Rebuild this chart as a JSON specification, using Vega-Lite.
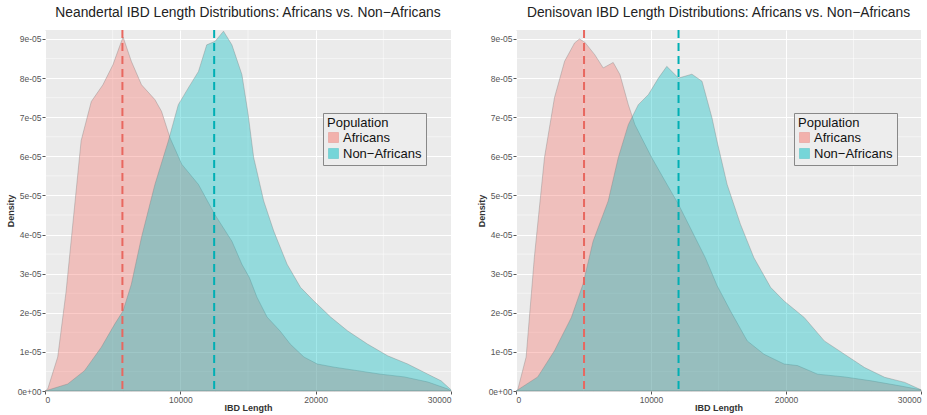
{
  "$schema": "https://vega.github.io/schema/vega-lite/v6.json",
  "background": "white",
  "padding": {"left": 6, "top": 6, "right": 2, "bottom": 0},
  "spacing": 24,
  "config": {
    "font": "Liberation Sans",
    "view": {"fill": "#EBEBEB", "stroke": null},
    "axis": {"labelFont": "Liberation Sans", "labelFontSize": 8.5, "labelColor": "#555555", "tickColor": "#555555", "tickSize": 3, "domain": false, "gridColor": "white", "gridWidth": 1, "titleFont": "Liberation Sans", "titleFontSize": 9, "titleFontWeight": "bold", "titleColor": "#333333", "labelPadding": 1},
    "title": {"font": "Liberation Sans", "fontSize": 13.8, "fontWeight": "normal", "color": "#222222", "offset": 9, "anchor": "middle"},
    "legend": {"orient": "none", "legendX": 278, "legendY": 83, "fillColor": "#EDEDED", "strokeColor": "#888888", "padding": 4, "titleFontSize": 13, "titleFontWeight": "normal", "titleColor": "#111111", "labelFontSize": 13, "labelColor": "#111111", "rowPadding": 1, "titlePadding": 1, "labelOffset": 3, "symbolType": "square", "symbolSize": 100, "symbolOpacity": 0.5, "symbolStrokeColor": "#888888", "symbolStrokeWidth": 0.8, "cornerRadius": 0}
  },
  "datasets": {
    "minorx": [{"x": 5000}, {"x": 15000}, {"x": 25000}],
    "minory": [{"density": 5e-6}, {"density": 1.5e-5}, {"density": 2.5e-5}, {"density": 3.5e-5}, {"density": 4.5e-5}, {"density": 5.5e-5}, {"density": 6.5e-5}, {"density": 7.5e-5}, {"density": 8.5e-5}],
    "neand": [
      {"pop": "Africans", "x": 0, "density": 0},
      {"pop": "Africans", "x": 200, "density": 0.05e-5},
      {"pop": "Africans", "x": 940, "density": 0.87e-5},
      {"pop": "Africans", "x": 1560, "density": 2.55e-5},
      {"pop": "Africans", "x": 2180, "density": 4.7e-5},
      {"pop": "Africans", "x": 2670, "density": 6.4e-5},
      {"pop": "Africans", "x": 3420, "density": 7.4e-5},
      {"pop": "Africans", "x": 4280, "density": 7.83e-5},
      {"pop": "Africans", "x": 5020, "density": 8.34e-5},
      {"pop": "Africans", "x": 5500, "density": 8.8e-5},
      {"pop": "Africans", "x": 5770, "density": 9.05e-5},
      {"pop": "Africans", "x": 6380, "density": 8.43e-5},
      {"pop": "Africans", "x": 7130, "density": 7.83e-5},
      {"pop": "Africans", "x": 8120, "density": 7.45e-5},
      {"pop": "Africans", "x": 8610, "density": 7.15e-5},
      {"pop": "Africans", "x": 9230, "density": 6.48e-5},
      {"pop": "Africans", "x": 10100, "density": 5.8e-5},
      {"pop": "Africans", "x": 11340, "density": 5.28e-5},
      {"pop": "Africans", "x": 12570, "density": 4.5e-5},
      {"pop": "Africans", "x": 13810, "density": 3.83e-5},
      {"pop": "Africans", "x": 14550, "density": 3.24e-5},
      {"pop": "Africans", "x": 15100, "density": 2.9e-5},
      {"pop": "Africans", "x": 15660, "density": 2.4e-5},
      {"pop": "Africans", "x": 16410, "density": 1.89e-5},
      {"pop": "Africans", "x": 17380, "density": 1.53e-5},
      {"pop": "Africans", "x": 18120, "density": 1.2e-5},
      {"pop": "Africans", "x": 19130, "density": 0.87e-5},
      {"pop": "Africans", "x": 20120, "density": 0.69e-5},
      {"pop": "Africans", "x": 21360, "density": 0.61e-5},
      {"pop": "Africans", "x": 23090, "density": 0.52e-5},
      {"pop": "Africans", "x": 24800, "density": 0.43e-5},
      {"pop": "Africans", "x": 26550, "density": 0.36e-5},
      {"pop": "Africans", "x": 28290, "density": 0.23e-5},
      {"pop": "Africans", "x": 29770, "density": 0.05e-5},
      {"pop": "Africans", "x": 30000, "density": 0},
      {"pop": "Non−Africans", "x": 0, "density": 0},
      {"pop": "Non−Africans", "x": 1680, "density": 0.18e-5},
      {"pop": "Non−Africans", "x": 2920, "density": 0.52e-5},
      {"pop": "Non−Africans", "x": 4160, "density": 1.12e-5},
      {"pop": "Non−Africans", "x": 5150, "density": 1.71e-5},
      {"pop": "Non−Africans", "x": 5770, "density": 2.05e-5},
      {"pop": "Non−Africans", "x": 6380, "density": 2.73e-5},
      {"pop": "Non−Africans", "x": 7130, "density": 3.93e-5},
      {"pop": "Non−Africans", "x": 8120, "density": 5.28e-5},
      {"pop": "Non−Africans", "x": 9110, "density": 6.39e-5},
      {"pop": "Non−Africans", "x": 9850, "density": 7.32e-5},
      {"pop": "Non−Africans", "x": 10590, "density": 7.75e-5},
      {"pop": "Non−Africans", "x": 11340, "density": 8.17e-5},
      {"pop": "Non−Africans", "x": 11950, "density": 8.85e-5},
      {"pop": "Non−Africans", "x": 12570, "density": 8.94e-5},
      {"pop": "Non−Africans", "x": 13190, "density": 9.2e-5},
      {"pop": "Non−Africans", "x": 13810, "density": 8.85e-5},
      {"pop": "Non−Africans", "x": 14550, "density": 8.09e-5},
      {"pop": "Non−Africans", "x": 15000, "density": 7.1e-5},
      {"pop": "Non−Africans", "x": 15420, "density": 5.97e-5},
      {"pop": "Non−Africans", "x": 16160, "density": 4.86e-5},
      {"pop": "Non−Africans", "x": 16900, "density": 4.09e-5},
      {"pop": "Non−Africans", "x": 17890, "density": 3.24e-5},
      {"pop": "Non−Africans", "x": 18880, "density": 2.65e-5},
      {"pop": "Non−Africans", "x": 19870, "density": 2.3e-5},
      {"pop": "Non−Africans", "x": 21110, "density": 1.89e-5},
      {"pop": "Non−Africans", "x": 22350, "density": 1.54e-5},
      {"pop": "Non−Africans", "x": 23830, "density": 1.2e-5},
      {"pop": "Non−Africans", "x": 25320, "density": 0.9e-5},
      {"pop": "Non−Africans", "x": 26800, "density": 0.69e-5},
      {"pop": "Non−Africans", "x": 28290, "density": 0.43e-5},
      {"pop": "Non−Africans", "x": 29270, "density": 0.26e-5},
      {"pop": "Non−Africans", "x": 30000, "density": 0.03e-5}
    ],
    "denis": [
      {"pop": "Africans", "x": 0, "density": 0},
      {"pop": "Africans", "x": 120, "density": 0.02e-5},
      {"pop": "Africans", "x": 750, "density": 0.87e-5},
      {"pop": "Africans", "x": 1360, "density": 3.42e-5},
      {"pop": "Africans", "x": 2110, "density": 5.97e-5},
      {"pop": "Africans", "x": 2850, "density": 7.5e-5},
      {"pop": "Africans", "x": 3600, "density": 8.43e-5},
      {"pop": "Africans", "x": 4340, "density": 8.9e-5},
      {"pop": "Africans", "x": 4700, "density": 9.0e-5},
      {"pop": "Africans", "x": 5090, "density": 8.92e-5},
      {"pop": "Africans", "x": 5830, "density": 8.6e-5},
      {"pop": "Africans", "x": 6460, "density": 8.26e-5},
      {"pop": "Africans", "x": 7200, "density": 8.4e-5},
      {"pop": "Africans", "x": 7700, "density": 8.09e-5},
      {"pop": "Africans", "x": 8320, "density": 7.32e-5},
      {"pop": "Africans", "x": 8810, "density": 6.81e-5},
      {"pop": "Africans", "x": 9310, "density": 6.47e-5},
      {"pop": "Africans", "x": 10050, "density": 5.97e-5},
      {"pop": "Africans", "x": 11040, "density": 5.37e-5},
      {"pop": "Africans", "x": 12040, "density": 4.77e-5},
      {"pop": "Africans", "x": 13030, "density": 4.09e-5},
      {"pop": "Africans", "x": 14020, "density": 3.41e-5},
      {"pop": "Africans", "x": 14890, "density": 2.7e-5},
      {"pop": "Africans", "x": 15880, "density": 2.05e-5},
      {"pop": "Africans", "x": 17130, "density": 1.28e-5},
      {"pop": "Africans", "x": 18370, "density": 0.94e-5},
      {"pop": "Africans", "x": 19860, "density": 0.69e-5},
      {"pop": "Africans", "x": 20850, "density": 0.65e-5},
      {"pop": "Africans", "x": 22340, "density": 0.43e-5},
      {"pop": "Africans", "x": 24330, "density": 0.36e-5},
      {"pop": "Africans", "x": 26310, "density": 0.26e-5},
      {"pop": "Africans", "x": 28300, "density": 0.14e-5},
      {"pop": "Africans", "x": 30000, "density": 0.03e-5},
      {"pop": "Non−Africans", "x": 0, "density": 0},
      {"pop": "Non−Africans", "x": 1610, "density": 0.36e-5},
      {"pop": "Non−Africans", "x": 2850, "density": 1.03e-5},
      {"pop": "Non−Africans", "x": 4100, "density": 1.88e-5},
      {"pop": "Non−Africans", "x": 4960, "density": 2.73e-5},
      {"pop": "Non−Africans", "x": 5710, "density": 3.83e-5},
      {"pop": "Non−Africans", "x": 6830, "density": 4.86e-5},
      {"pop": "Non−Africans", "x": 7570, "density": 5.96e-5},
      {"pop": "Non−Africans", "x": 8320, "density": 6.81e-5},
      {"pop": "Non−Africans", "x": 9060, "density": 7.32e-5},
      {"pop": "Non−Africans", "x": 9810, "density": 7.58e-5},
      {"pop": "Non−Africans", "x": 10550, "density": 8.0e-5},
      {"pop": "Non−Africans", "x": 11170, "density": 8.3e-5},
      {"pop": "Non−Africans", "x": 12040, "density": 8.0e-5},
      {"pop": "Non−Africans", "x": 13030, "density": 8.1e-5},
      {"pop": "Non−Africans", "x": 13780, "density": 7.92e-5},
      {"pop": "Non−Africans", "x": 14520, "density": 6.98e-5},
      {"pop": "Non−Africans", "x": 14890, "density": 6.39e-5},
      {"pop": "Non−Africans", "x": 15640, "density": 5.28e-5},
      {"pop": "Non−Africans", "x": 16630, "density": 4.26e-5},
      {"pop": "Non−Africans", "x": 17620, "density": 3.41e-5},
      {"pop": "Non−Africans", "x": 18860, "density": 2.65e-5},
      {"pop": "Non−Africans", "x": 19860, "density": 2.3e-5},
      {"pop": "Non−Africans", "x": 21350, "density": 1.88e-5},
      {"pop": "Non−Africans", "x": 22840, "density": 1.28e-5},
      {"pop": "Non−Africans", "x": 24330, "density": 0.94e-5},
      {"pop": "Non−Africans", "x": 25820, "density": 0.6e-5},
      {"pop": "Non−Africans", "x": 27310, "density": 0.35e-5},
      {"pop": "Non−Africans", "x": 28800, "density": 0.22e-5},
      {"pop": "Non−Africans", "x": 30000, "density": 0.03e-5}
    ],
    "neandMean": [{"pop": "Africans", "x": 5720}, {"pop": "Non−Africans", "x": 12500}],
    "denisMean": [{"pop": "Africans", "x": 5040}, {"pop": "Non−Africans", "x": 12040}]
  },
  "resolve": {"scale": {"color": "independent", "stroke": "independent"}, "legend": {"color": "independent"}},
  "hconcat": [
    {
      "title": "Neandertal IBD Length Distributions: Africans vs. Non−Africans",
      "width": 406,
      "height": 361,
      "layer": [
        {"data": {"name": "minorx"}, "mark": {"type": "rule", "color": "white", "strokeWidth": 0.5}, "encoding": {"x": {"field": "x", "type": "quantitative", "title": "IBD Length"}}},
        {"data": {"name": "minory"}, "mark": {"type": "rule", "color": "white", "strokeWidth": 0.5}, "encoding": {"y": {"field": "density", "type": "quantitative", "title": "Density"}}},
        {
          "data": {"name": "neand"},
          "mark": {"type": "area", "fillOpacity": 0.37, "stroke": "#7a7a7a", "strokeOpacity": 0.6, "strokeWidth": 0.6},
          "encoding": {
            "x": {"field": "x", "type": "quantitative", "title": "IBD Length", "scale": {"domain": [0, 30000], "nice": false, "zero": false}, "axis": {"values": [0, 10000, 20000, 30000], "format": "d", "titlePadding": 0}},
            "y": {"field": "density", "type": "quantitative", "stack": null, "title": "Density", "scale": {"domain": [0, 9.23e-5], "nice": false}, "axis": {"values": [0, 1e-5, 2e-5, 3e-5, 4e-5, 5e-5, 6e-5, 7e-5, 8e-5, 9e-5], "labelExpr": "datum.value == 0 ? '0e+00' : replace(format(datum.value, '.0e'), 'e-', 'e-0')", "titlePadding": 2}},
            "color": {"field": "pop", "type": "nominal", "scale": {"domain": ["Africans", "Non−Africans"], "range": ["#F8766D", "#00BFC4"]}, "legend": {"title": "Population"}}
          }
        },
        {
          "data": {"name": "neandMean"},
          "mark": {"type": "rule", "strokeDash": [8, 5], "strokeWidth": 2},
          "encoding": {
            "x": {"field": "x", "type": "quantitative", "title": "IBD Length"},
            "stroke": {"field": "pop", "type": "nominal", "scale": {"domain": ["Africans", "Non−Africans"], "range": ["#E8675F", "#00AFB4"]}, "legend": null}
          }
        }
      ]
    },
    {
      "title": "Denisovan IBD Length Distributions: Africans vs. Non−Africans",
      "width": 405,
      "height": 361,
      "layer": [
        {"data": {"name": "minorx"}, "mark": {"type": "rule", "color": "white", "strokeWidth": 0.5}, "encoding": {"x": {"field": "x", "type": "quantitative", "title": "IBD Length"}}},
        {"data": {"name": "minory"}, "mark": {"type": "rule", "color": "white", "strokeWidth": 0.5}, "encoding": {"y": {"field": "density", "type": "quantitative", "title": "Density"}}},
        {
          "data": {"name": "denis"},
          "mark": {"type": "area", "fillOpacity": 0.37, "stroke": "#7a7a7a", "strokeOpacity": 0.6, "strokeWidth": 0.6},
          "encoding": {
            "x": {"field": "x", "type": "quantitative", "title": "IBD Length", "scale": {"domain": [0, 30000], "nice": false, "zero": false}, "axis": {"values": [0, 10000, 20000, 30000], "format": "d", "titlePadding": 0}},
            "y": {"field": "density", "type": "quantitative", "stack": null, "title": "Density", "scale": {"domain": [0, 9.23e-5], "nice": false}, "axis": {"values": [0, 1e-5, 2e-5, 3e-5, 4e-5, 5e-5, 6e-5, 7e-5, 8e-5, 9e-5], "labelExpr": "datum.value == 0 ? '0e+00' : replace(format(datum.value, '.0e'), 'e-', 'e-0')", "titlePadding": 2}},
            "color": {"field": "pop", "type": "nominal", "scale": {"domain": ["Africans", "Non−Africans"], "range": ["#F8766D", "#00BFC4"]}, "legend": {"title": "Population"}}
          }
        },
        {
          "data": {"name": "denisMean"},
          "mark": {"type": "rule", "strokeDash": [8, 5], "strokeWidth": 2},
          "encoding": {
            "x": {"field": "x", "type": "quantitative", "title": "IBD Length"},
            "stroke": {"field": "pop", "type": "nominal", "scale": {"domain": ["Africans", "Non−Africans"], "range": ["#E8675F", "#00AFB4"]}, "legend": null}
          }
        }
      ]
    }
  ]
}
